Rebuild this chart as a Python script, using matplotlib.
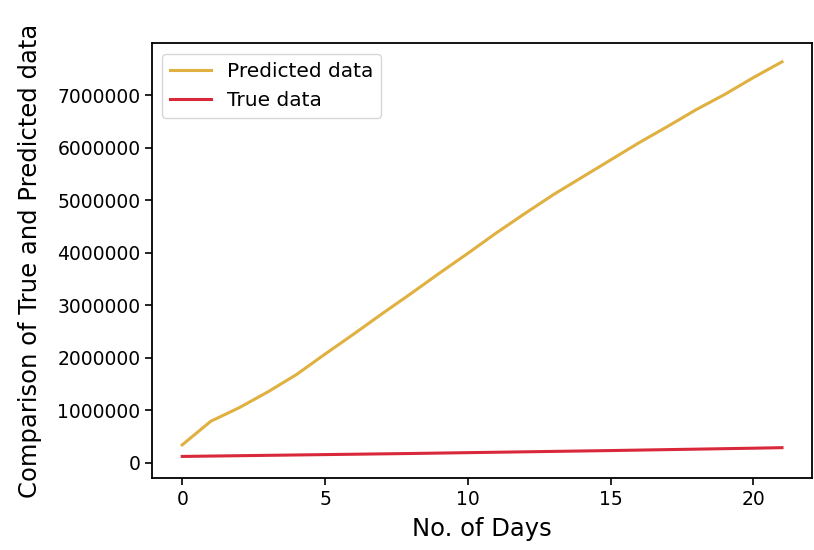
import matplotlib
matplotlib.use('Agg')
import matplotlib.pyplot as plt
from matplotlib.ticker import ScalarFormatter

# values
days = list(range(22))
predicted = [340000, 790000, 1050000, 1350000, 1680000, 2070000, 2450000,
             2840000, 3220000, 3610000, 3990000, 4380000, 4750000, 5110000,
             5440000, 5770000, 6100000, 6410000, 6730000, 7020000, 7340000,
             7640000]
true_vals = [120000, 127000, 134000, 141000, 148000, 155000, 162000, 169000,
             176000, 184000, 192000, 200000, 208000, 216000, 224000, 232000,
             241000, 250000, 259000, 268000, 277000, 287000]


def main():
    fig, ax = plt.subplots(figsize=(8.14, 5.5), dpi=100)
    fig.subplots_adjust(left=0.187, right=0.9975, top=0.921, bottom=0.131)

    ax.plot(days, predicted, color='#e0b040', linewidth=2.2,
            label='Predicted data')
    ax.plot(days, true_vals, color='#d8283a', linewidth=2.2,
            label='True data')

    fmt = ScalarFormatter(useOffset=False)
    fmt.set_scientific(False)
    ax.yaxis.set_major_formatter(fmt)
    ax.set_xticks([0, 5, 10, 15, 20])
    ax.set_ylim(-290000, 7990000)
    ax.tick_params(labelsize=13.5, length=5, width=1.2)
    for s in ax.spines.values():
        s.set_linewidth(1.3)

    ax.set_xlabel('No. of Days', fontsize=17.5, labelpad=6)
    ax.set_ylabel('Comparison of True and Predicted data', fontsize=17.5,
                  labelpad=11)
    ax.legend(loc='upper left', fontsize=14.5)

    fig.savefig('out.png', dpi=100)


if __name__ == "__main__":
    main()
